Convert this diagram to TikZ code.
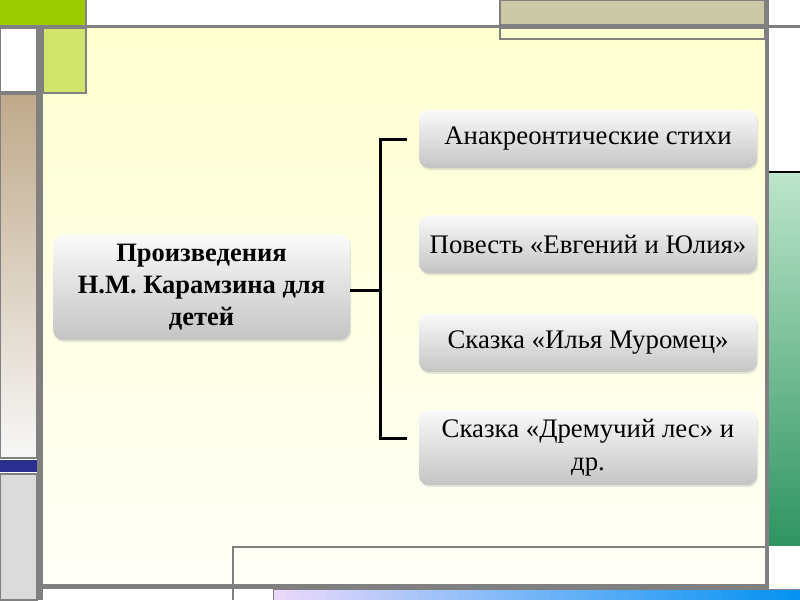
\documentclass[tikz,border=0pt]{standalone}
\usepackage{fontspec}
\setmainfont{Liberation Serif}
\usetikzlibrary{positioning,shadows}

\definecolor{frame gray}{HTML}{808080}
\definecolor{cream top}{HTML}{FEFFD0}
\definecolor{cream bottom}{HTML}{FFFFF8}
\definecolor{leaf green}{HTML}{9CCC00}
\definecolor{lime}{HTML}{D0E36A}
\definecolor{tan}{HTML}{BFA98A}
\definecolor{ink blue}{HTML}{2B2F8F}
\definecolor{khaki}{HTML}{CBC9A6}
\definecolor{mint}{HTML}{BDE5CB}
\definecolor{sea green}{HTML}{2F9462}
\definecolor{lavender}{HTML}{EAD8FA}
\definecolor{pale sky}{HTML}{70B4F8}
\definecolor{sky}{HTML}{0090F0}

\tikzset{
	panel/.style={draw=frame gray,line width=1.2pt},
	work/.style={rectangle,rounded corners=10pt,top color=black!2,bottom color=black!23,
		drop shadow={shadow xshift=1pt,shadow yshift=-2pt,opacity=0.2},
		minimum width=338pt,minimum height=58pt,align=center,inner sep=2pt,
		font=\fontsize{26.8}{33}\selectfont},
	bracket/.style={line width=3pt,black}
}

\begin{document}
\begin{tikzpicture}[x=1pt,y=-1pt,node distance=40pt]
	\useasboundingbox (0,0) rectangle (800,600);
	\fill[white] (0,0) rectangle (800,600);
	\fill[top color=cream top,bottom color=cream bottom] (43,28) rectangle (765,584);

	% left column
	\fill[leaf green] (0,0) rectangle (86,25);
	\draw[panel] (86,0) -- (86,25);
	\draw[panel,fill=white] (0,28) rectangle (37,92);
	\draw[panel,fill=lime] (43,28) rectangle (86,93);
	\draw[panel,top color=tan,bottom color=white!97!black] (0,94) rectangle (37,458);
	\fill[ink blue] (0,460) rectangle (37,472);
	\draw[panel,fill=black!14] (0,474) rectangle (37,600);

	% top and right
	\draw[panel,line width=2pt,fill=khaki] (500,0) rectangle (765,25);
	\draw[panel] (500,28) rectangle (765,39);
	\draw[black,line width=1.5pt] (769,172) -- (800,172);
	\fill[top color=mint,bottom color=sea green] (769,173) rectangle (800,545);

	% bottom
	\draw[panel] (233,600) -- (233,547) -- (765,547);
	\foreach \i in {0,...,39}{
		\pgfmathsetmacro{\mixa}{min(100,\i*5)}
		\pgfmathsetmacro{\mixb}{max(0,\i*5-100)}
		\fill[sky!\mixb!pale sky!\mixa!lavender] (273+\i*13.2,589) rectangle (273+\i*13.2+13.7,600);
	}
	\draw[frame gray,line width=0.8pt] (273,600) -- (273,589.5) -- (800,589.5);

	% frame
	\fill[frame gray] (0,25) rectangle (800,28);
	\fill[frame gray] (37,28) rectangle (43,600);
	\fill[frame gray] (765,0) rectangle (769,589);
	\fill[frame gray] (43,584) rectangle (769,589);

	\node (root) [work,minimum width=297pt,minimum height=105pt,
		font=\bfseries\fontsize{26.5}{32}\selectfont] at (201.5,287.5)
		{Произведения\\Н.М. Карамзина для\\детей};

	\node (poem) [work] at (588,139) {Анакреонтические стихи};
	\node (story) [work,below=47pt of poem] {Повесть «Евгений и Юлия»};
	\node (muromets) [work,below=40pt of story] {Сказка «Илья Муромец»};
	\node (forest) [work,below=38pt of muromets,minimum height=75pt] {Сказка «Дремучий лес» и\\др.};

	\coordinate (fork) at (380,290);
	\coordinate (fork top) at (407,139);
	\coordinate (fork bottom) at (407,438);
	\draw[bracket] (root.east |- fork) -- (fork);
	\draw[bracket] (fork top) -| (fork) |- (fork bottom);

\end{tikzpicture}
\end{document}
